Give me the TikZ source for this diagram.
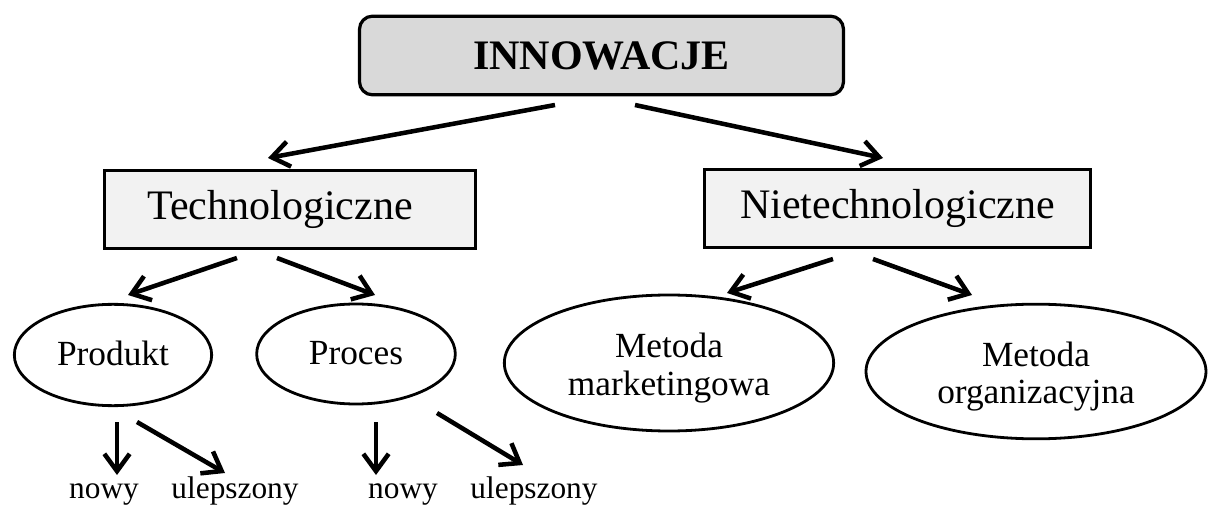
\documentclass[tikz,border=0pt]{standalone}
\usepackage{fontspec}
\setmainfont{Liberation Serif}
\usetikzlibrary{shapes.geometric,arrows.meta}

\definecolor{topfill}{HTML}{D9D9D9}
\definecolor{boxfill}{HTML}{F2F2F2}

\tikzset{
  rootbox/.style={draw, line width=2.4pt, fill=topfill, rounded corners=9.75pt,
    minimum width=363pt, minimum height=59pt, inner sep=0pt,
    font=\fontsize{31.5pt}{37pt}\selectfont\bfseries},
  catbox/.style={draw, line width=2.4pt, fill=boxfill,
    minimum height=59pt, inner sep=0pt,
    font=\fontsize{31.5pt}{37pt}\selectfont},
  kind/.style={draw, ellipse, line width=2.1pt, inner sep=0pt, align=center,
    font=\fontsize{26.5pt}{28pt}\selectfont},
  onekind/.style={kind, text height=20pt, text depth=5pt},
  leaf/.style={anchor=base, inner sep=0pt, font=\fontsize{23.5pt}{27pt}\selectfont},
  arr/.style={line width=3.4pt, -{Straight Barb[length=13pt,width=19pt,line width=3.4pt]}}
}
% extra height above the first line of a two-line label
\newcommand\raiseheight{\rule{0pt}{26pt}}

\begin{document}
\begin{tikzpicture}[x=0.75pt,y=-0.75pt]
  \useasboundingbox (0,0) rectangle (1208,506);

  % main boxes
  \node[rootbox] (root) at (601.5,55.5) {INNOWACJE};
  \node[catbox, minimum width=278pt] (tech) at (290,209.5) {\hspace*{-15pt}Technologiczne};
  \node[catbox, minimum width=289pt] (ntech) at (897.5,208.5) {Nietechnologiczne};

  % innovation kinds
  \node[onekind, minimum width=148pt, minimum height=76pt] (prod) at (113,355) {Produkt};
  \node[onekind, minimum width=149pt, minimum height=75pt] (proc) at (356,354) {Proces};
  \node[kind, minimum width=247pt, minimum height=102pt] (mark) at (669,363) {\raiseheight Metoda\\marketingowa};
  \node[kind, minimum width=255pt, minimum height=101pt] (org) at (1036,371.5) {\raiseheight Metoda\\organizacyjna};

  % leaf labels
  \node[leaf] (new1) at (104,498) {nowy};
  \node[leaf] (imp1) at (235,498) {ulepszony};
  \node[leaf] (new2) at (403,498) {nowy};
  \node[leaf] (imp2) at (534,498) {ulepszony};

  % arrow end points
  \coordinate (r1) at (555,105);   \coordinate (t1) at (268,158);
  \coordinate (r2) at (635,105);   \coordinate (n1) at (883,158);
  \coordinate (t2) at (237,258);   \coordinate (p1) at (128,295);
  \coordinate (t3) at (277,258);   \coordinate (q1) at (375,295);
  \coordinate (n2) at (833,259);   \coordinate (m1) at (727,293);
  \coordinate (n3) at (873,259);   \coordinate (o1) at (972,295);
  \coordinate (p2) at (117,422);   \coordinate (a1) at (117,475);
  \coordinate (p3) at (137,422);   \coordinate (b1) at (225,473);
  \coordinate (q2) at (376,422);   \coordinate (a2) at (376,475);
  \coordinate (q3) at (437,413);   \coordinate (b2) at (523,465);

  % connectors
  \draw[arr] (r1) -- (t1);
  \draw[arr] (r2) -- (n1);
  \draw[arr] (t2) -- (p1);
  \draw[arr] (t3) -- (q1);
  \draw[arr] (n2) -- (m1);
  \draw[arr] (n3) -- (o1);
  \draw[arr] (p2) -- (a1);
  \draw[arr] (p3) -- (b1);
  \draw[arr] (q2) -- (a2);
  \draw[arr] (q3) -- (b2);
\end{tikzpicture}
\end{document}
